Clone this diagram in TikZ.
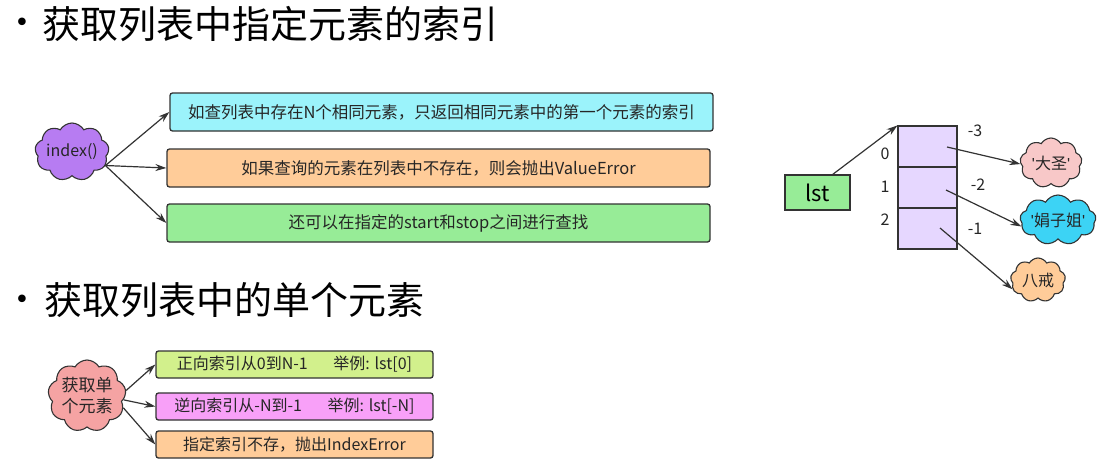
\documentclass[tikz,border=0pt]{standalone}
\usepackage{fontspec}
\setmainfont{Noto Sans CJK SC}
\newfontfamily\latinf{Liberation Sans}
\newfontfamily\symf{DejaVu Sans}
\usetikzlibrary{shapes.symbols,arrows.meta,calc}
\definecolor{cyanbox}{HTML}{9BF3FB}
\definecolor{orangebox}{HTML}{FFCC99}
\definecolor{greenbox}{HTML}{97EC97}
\definecolor{purplecloud}{HTML}{B77CF2}
\definecolor{cellfill}{HTML}{E6D7FF}
\definecolor{pinkcloud}{HTML}{F8C8C8}
\definecolor{cyancloud}{HTML}{3CD3F5}
\definecolor{salmoncloud}{HTML}{F5A3A3}
\definecolor{limebox}{HTML}{D2F08C}
\definecolor{magentabox}{HTML}{F8A0F8}
\definecolor{edge}{HTML}{333333}
\newcommand\apos{{\latinf\symbol{39}}}
\tikzset{
  titletext/.style={anchor=west,font=\fontsize{38}{42}\selectfont,inner sep=0},
  bulletmark/.style={font=\symf\fontsize{26}{28}\selectfont,inner sep=0},
  infobox/.style={draw=edge,line width=1.3pt,rounded corners=2.5pt,minimum height=38pt,inner sep=0,font=\fontsize{16.5}{18}\selectfont,text=black!85},
  smallbox/.style={draw=edge,line width=1.3pt,rounded corners=2.5pt,minimum width=277pt,minimum height=27pt,inner sep=0,font=\fontsize{16}{18}\selectfont,text=black!85},
  puff/.style={cloud,cloud puffs=9,cloud puff arc=120,cloud ignores aspect,draw=edge,line width=1.1pt,inner sep=0,font=\fontsize{16}{18}\selectfont,text=black!85},
  cell/.style={draw=edge,line width=1.1pt,fill=cellfill,minimum width=59pt,minimum height=41pt,inner sep=0},
  lbl/.style={font=\fontsize{16}{18}\selectfont,inner sep=0,text=black!85},
  conn/.style={draw=edge,line width=1.2pt,-{Stealth[length=11pt,width=7pt]}}
}
\begin{document}
\begin{tikzpicture}[x=1pt,y=-1pt]
\useasboundingbox[fill=white] (0,0) rectangle (1106,474);
% titles
\node[bulletmark] (b1) at (22,25) {•};
\node[titletext] (t1) at (42,24) {获取列表中指定元素的索引};
\node[bulletmark] (b2) at (22,302) {•};
\node[titletext] (t2) at (44,300) {获取列表中的单个元素};
% index() part
\node[puff,fill=purplecloud,minimum width=74pt,minimum height=58pt] (idx) at (72,152) {index()};
\node[infobox,fill=cyanbox,minimum width=543pt] (i1) at (441.5,112) {如查列表中存在N个相同元素，只返回相同元素中的第一个元素的索引};
\node[infobox,fill=orangebox,minimum width=543pt] (i2) at (438.5,168) {如果查询的元素在列表中不存在，则会抛出ValueError};
\node[infobox,fill=greenbox,minimum width=543pt] (i3) at (438.5,223) {还可以在指定的start和stop之间进行查找};
\draw[conn] (idx.-22) -- (i1.west);
\draw[conn] (idx.-22) -- (i2.west);
\draw[conn] (idx.-22) -- (i3.west);
% list diagram
\node[draw=edge,line width=1.1pt,fill=greenbox,minimum width=65pt,minimum height=35pt,inner sep=0,font=\fontsize{22}{24}\selectfont] (lst) at (817.5,192.5) {lst};
\node[cell] (c0) at (927.5,146.5) {};
\node[cell] (c1) at (927.5,187.5) {};
\node[cell] (c2) at (927.5,228.5) {};
\node[lbl] (n0) at (885,154) {0};
\node[lbl] (n1) at (885,187) {1};
\node[lbl] (n2) at (885,220) {2};
\node[lbl] (m3) at (975,131) {-3};
\node[lbl] (m2) at (978,185) {-2};
\node[lbl] (m1) at (975,229) {-1};
\node[puff,fill=pinkcloud,minimum width=62pt,minimum height=50pt] (d) at (1051,163) {\apos 大圣\apos};
\node[puff,fill=cyancloud,minimum width=76pt,minimum height=50pt] (j) at (1058,220) {\apos 娟子姐\apos};
\node[puff,fill=orangebox,minimum width=55pt,minimum height=44pt] (b) at (1038,280) {八戒};
\coordinate (s0) at (947,147);
\coordinate (s1) at (946,190);
\coordinate (s2) at (940,228);
\draw[conn] (lst.50) -- (c0.north west);
\draw[conn] (s0) -- (d.182);
\draw[conn] (s1) -- (j.190);
\draw[conn] (s2) -- (b.200);
% single element part
\node[puff,fill=salmoncloud,minimum width=76pt,minimum height=72pt,align=center,font=\fontsize{17}{21}\selectfont] (bc) at (87,396) {获取单\\个元素};
\node[smallbox,fill=limebox] (e1) at (294.5,364.5) {正向索引从0到N-1\hspace{1.6em}举例: lst[0]};
\node[smallbox,fill=magentabox] (e2) at (294.5,406.5) {逆向索引从-N到-1\hspace{1.6em}举例: lst[-N]};
\node[smallbox,fill=orangebox] (e3) at (294.5,444.5) {指定索引不存，抛出IndexError};
\draw[conn] (bc.8) -- (e1.west);
\draw[conn] (bc.-6) -- (e2.west);
\draw[conn] (bc.-18) -- (e3.west);
\end{tikzpicture}
\end{document}
